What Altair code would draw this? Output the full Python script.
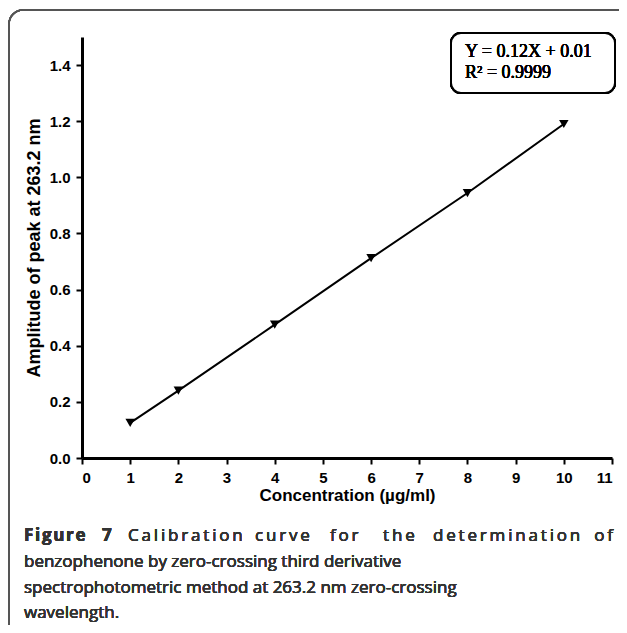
import altair as alt
import pandas as pd

conc = [1, 2, 4, 6, 8, 10]
amp = [0.125, 0.240, 0.475, 0.712, 0.944, 1.190]
x_ticks = list(range(0, 12))
y_ticks = [0.0, 0.2, 0.4, 0.6, 0.8, 1.0, 1.2, 1.4]
eq_lines = ["Y = 0.12X + 0.01", "R\u00b2 = 0.9999"]
caption_bold_words = ["Figure", "7"]
caption_first_words = ["Calibration", "curve", "for", "the", "determination", "of"]
caption_lines = [
    "benzophenone by zero-crossing third derivative",
    "spectrophotometric method at 263.2 nm zero-crossing",
    "wavelength.",
]

df = pd.DataFrame({"c": conc, "a": amp})

W, H = 530, 421
CAP_COLOR = "#333333"
THIN = "\u2009"
HAIR = "\u200a"


def spaced(word, sep):
    return sep.join(list(word))


x_enc = alt.X("c:Q", scale=alt.Scale(domain=[0, 11], nice=False),
              axis=alt.Axis(values=x_ticks, format="d", title="Concentration (\u00b5g/ml)",
                            titleFontSize=17, titlePadding=2))
y_enc = alt.Y("a:Q", scale=alt.Scale(domain=[0, 1.5], nice=False),
              axis=alt.Axis(values=y_ticks, format=".1f", title="Amplitude of peak at 263.2 nm",
                            titleFontSize=18, titlePadding=6))

line = alt.Chart(df).mark_line(color="black", strokeWidth=2).encode(x=x_enc, y=y_enc)
pts = alt.Chart(df).mark_point(shape="triangle-down", filled=True, color="black",
                               size=90, opacity=1).encode(x="c:Q", y="a:Q")

border = alt.Chart(df).mark_rect(fill=None, stroke="#555555", strokeWidth=1.5,
                                 cornerRadius=14).encode(
    x=alt.value(-73), x2=alt.value(560), y=alt.value(-27), y2=alt.value(610))

eqbox = alt.Chart(df).mark_rect(fill="white", stroke="black", strokeWidth=2,
                                cornerRadius=10).encode(
    x=alt.value(369), x2=alt.value(533), y=alt.value(-4), y2=alt.value(56))

eq1 = alt.Chart(df).mark_text(text=eq_lines[0], font="Liberation Serif", fontSize=18,
                              fontWeight="normal", align="left", baseline="alphabetic",
                              color="black").encode(x=alt.value(383), y=alt.value(20))
eq2 = alt.Chart(df).mark_text(text=eq_lines[1], font="Liberation Serif", fontSize=18,
                              fontWeight="normal", align="left", baseline="alphabetic",
                              color="black").encode(x=alt.value(383), y=alt.value(41))

# caption (plot origin is at page x=82, y=37)
cap_x = -58
caps = []
bold_x = [cap_x, 20]
for w, xx in zip(caption_bold_words, bold_x):
    caps.append(alt.Chart(df).mark_text(text=spaced(w, HAIR), font="Open Sans", fontSize=17,
                                        fontWeight="bold", align="left", baseline="alphabetic",
                                        color=CAP_COLOR).encode(x=alt.value(xx), y=alt.value(504)))
first_x = [46, 173, 248, 301, 351]
for w, xx in zip(caption_first_words[:-1], first_x):
    caps.append(alt.Chart(df).mark_text(text=spaced(w, THIN), font="Open Sans", fontSize=17,
                                        fontWeight="normal", align="left", baseline="alphabetic",
                                        color=CAP_COLOR).encode(x=alt.value(xx), y=alt.value(504)))
caps.append(alt.Chart(df).mark_text(text=spaced(caption_first_words[-1], THIN), font="Open Sans",
                                    fontSize=17, fontWeight="normal", align="right",
                                    baseline="alphabetic", color=CAP_COLOR).encode(
    x=alt.value(531), y=alt.value(504)))
for i, t in enumerate(caption_lines):
    caps.append(alt.Chart(df).mark_text(text=t, font="Open Sans", fontSize=17, fontWeight="normal",
                                        align="left", baseline="alphabetic", color=CAP_COLOR).encode(
        x=alt.value(cap_x), y=alt.value(530 + 25.7 * i)))

chart = alt.layer(border, line, pts, eqbox, eq1, eq2, *caps).properties(
    width=W, height=H,
    autosize=alt.AutoSizeParams(type="none"),
    padding={"left": 74, "top": 29, "right": 7, "bottom": 167},
).configure_view(stroke=None).configure_axis(
    domainColor="black", domainWidth=3, tickColor="black", tickWidth=2, tickSize=6,
    labelFont="Liberation Sans", labelFontWeight="bold", labelFontSize=15, labelColor="black",
    titleFont="Liberation Sans", titleFontWeight="bold", titleColor="black",
    grid=False, labelPadding=6,
)

chart.save("out.html", embed_options={"renderer": "svg", "actions": False})
